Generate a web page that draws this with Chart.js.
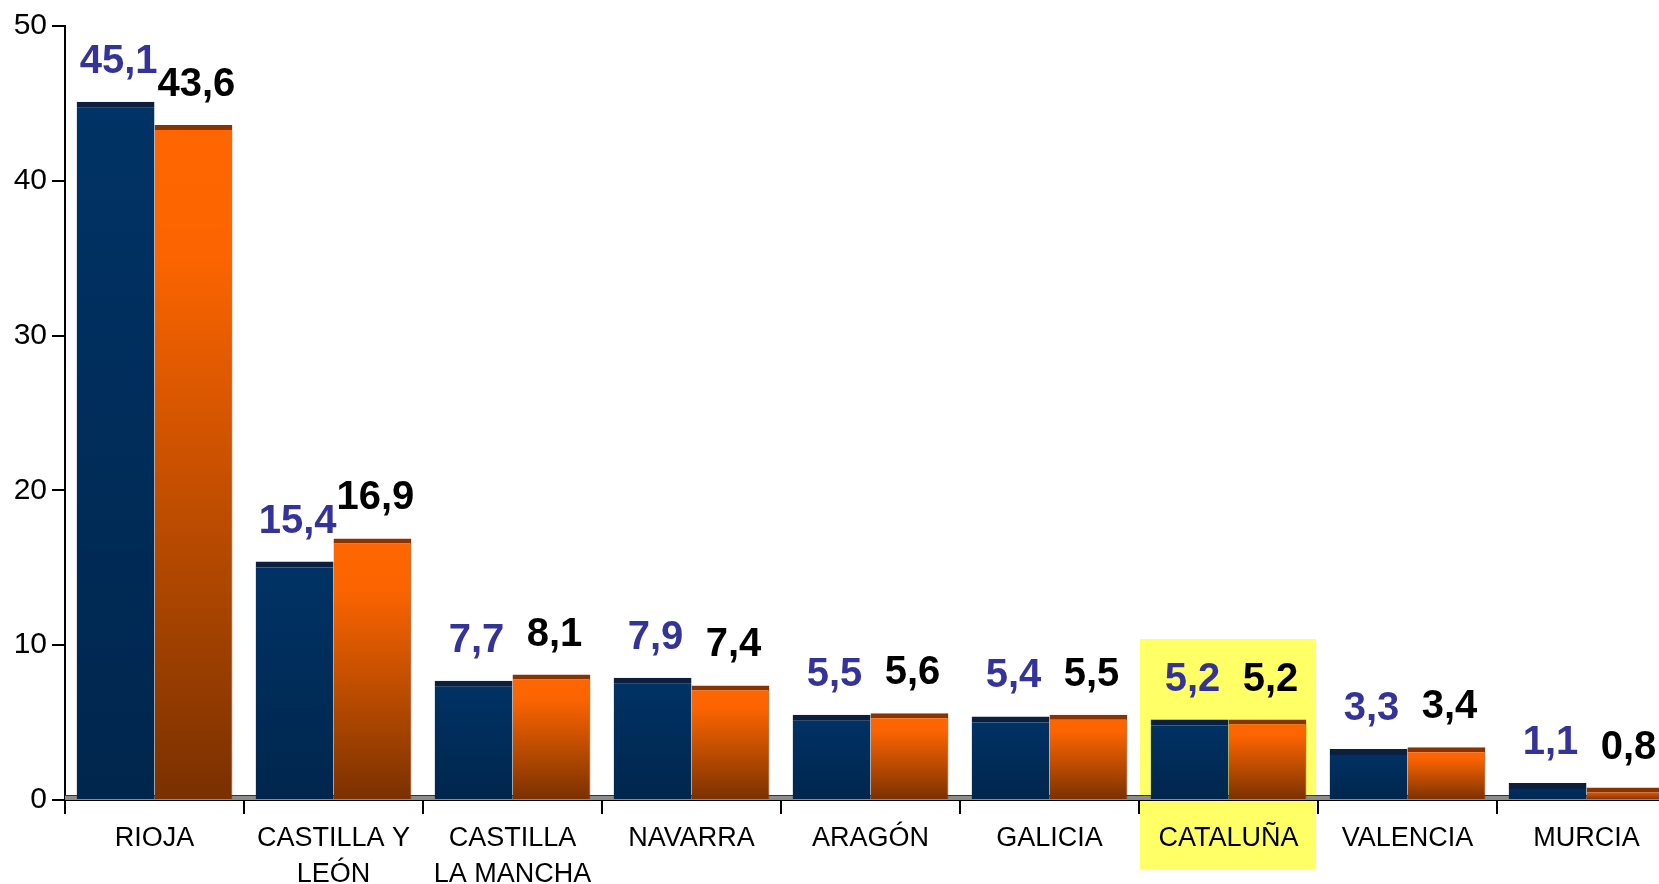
<!DOCTYPE html>
<html lang="es">
<head>
  <meta charset="UTF-8" />
  <title>Comunidades</title>
  <script src="https://cdn.jsdelivr.net/npm/chart.js"></script>
  <style>
    html, body {
      margin: 0;
      padding: 0;
      background: #fff;
      overflow: hidden;
    }
    canvas { display: block; }
  </style>
</head>
<body>
  <canvas id="chart" width="1700" height="884"></canvas>

  <script>
    const categorias = [
      'RIOJA',
      ['CASTILLA Y', 'LEÓN'],
      ['CASTILLA', 'LA MANCHA'],
      'NAVARRA',
      'ARAGÓN',
      'GALICIA',
      'CATALUÑA',
      'VALENCIA',
      'MURCIA'
    ];
    const serieAzul = [45.1, 15.4, 7.7, 7.9, 5.5, 5.4, 5.2, 3.3, 1.1];
    const serieNaranja = [43.6, 16.9, 8.1, 7.4, 5.6, 5.5, 5.2, 3.4, 0.8];
    const ticksY = [0, 10, 20, 30, 40, 50];
    const destacado = 6; // CATALUÑA

    // gradiente vertical por barra, de la cima a la base
    function degradado(ctx, stops) {
      const chart = ctx.chart;
      if (!chart.chartArea || ctx.type !== 'data') return stops[0][1];
      const y = chart.scales.y;
      const top = y.getPixelForValue(ctx.raw);
      const base = y.getPixelForValue(0);
      const g = chart.ctx.createLinearGradient(0, top, 0, base);
      stops.forEach(([o, c]) => g.addColorStop(o, c));
      return g;
    }

    const fondoDestacado = {
      id: 'fondoDestacado',
      beforeDraw(chart) {
        const { ctx, chartArea, scales: { x, y } } = chart;
        const half = (x.getPixelForValue(1) - x.getPixelForValue(0)) / 2;
        const cx = x.getPixelForValue(destacado);
        const top = y.getPixelForValue(10.4);
        const bottom = chartArea.bottom + 69;
        ctx.save();
        ctx.fillStyle = '#ffff66';
        ctx.fillRect(cx - half + 1, top, half * 2 - 3, bottom - top);
        ctx.restore();
      }
    };

    const suelo = {
      id: 'suelo',
      beforeDatasetsDraw(chart) {
        const { ctx, chartArea } = chart;
        ctx.save();
        ctx.fillStyle = '#8c8c8c';
        ctx.fillRect(chartArea.left, chartArea.bottom - 4, chartArea.right - chartArea.left, 4);
        ctx.fillStyle = '#333';
        ctx.fillRect(chartArea.left, chartArea.bottom - 5, chartArea.right - chartArea.left, 1);
        ctx.restore();
      }
    };

    const etiquetas = {
      id: 'etiquetas',
      afterDatasetsDraw(chart) {
        const { ctx } = chart;
        ctx.save();
        ctx.font = 'bold 40px "Liberation Sans", Arial, sans-serif';
        ctx.textAlign = 'center';
        ctx.textBaseline = 'alphabetic';
        chart.data.datasets.forEach((ds, i) => {
          const meta = chart.getDatasetMeta(i);
          ctx.fillStyle = ds.labelColor;
          meta.data.forEach((bar, j) => {
            const txt = ds.data[j].toFixed(1).replace('.', ',');
            ctx.fillText(txt, bar.x + 3, bar.y - 29);
          });
        });
        ctx.restore();
      }
    };

    new Chart(document.getElementById('chart'), {
      type: 'bar',
      data: {
        labels: categorias,
        datasets: [
          {
            label: 'Serie 1',
            data: serieAzul,
            labelColor: '#333399',
            backgroundColor: ctx => degradado(ctx, [[0, '#003366'], [1, '#00264d']]),
            borderColor: '#0b1f3e',
            borderWidth: { top: 6 },
            borderSkipped: 'bottom'
          },
          {
            label: 'Serie 2',
            data: serieNaranja,
            labelColor: '#000000',
            backgroundColor: ctx => degradado(ctx, [[0, '#ff6600'], [0.2, '#fb6400'], [0.7, '#aa4500'], [1, '#7a3000']]),
            borderColor: '#8a3300',
            borderWidth: { top: 5, right: 1 },
            borderSkipped: 'bottom'
          }
        ]
      },
      options: {
        responsive: false,
        animation: false,
        layout: { padding: { top: 26, right: 24, left: 0, bottom: 0 } },
        categoryPercentage: 0.87,
        barPercentage: 1,
        plugins: {
          legend: { display: false },
          tooltip: { enabled: false }
        },
        scales: {
          x: {
            afterFit: s => { s.height = 84; },
            border: { color: '#000', width: 2 },
            grid: {
              offset: true,
              drawOnChartArea: false,
              tickLength: 14,
              color: '#000',
              lineWidth: 2
            },
            ticks: {
              color: '#000',
              padding: 7,
              maxRotation: 0,
              autoSkip: false,
              font: { family: '"Liberation Sans", Arial, sans-serif', size: 27, lineHeight: 1.33 }
            }
          },
          y: {
            min: 0,
            max: 50,
            afterFit: s => { s.width = 65; },
            afterBuildTicks: s => { s.ticks = ticksY.map(v => ({ value: v })); },
            border: { color: '#000', width: 2 },
            grid: {
              drawOnChartArea: false,
              tickLength: 13,
              color: '#000',
              lineWidth: 2
            },
            ticks: {
              color: '#000',
              padding: 5,
              font: { family: '"Liberation Sans", Arial, sans-serif', size: 30 }
            }
          }
        }
      },
      plugins: [fondoDestacado, suelo, etiquetas]
    });
  </script>
</body>
</html>
